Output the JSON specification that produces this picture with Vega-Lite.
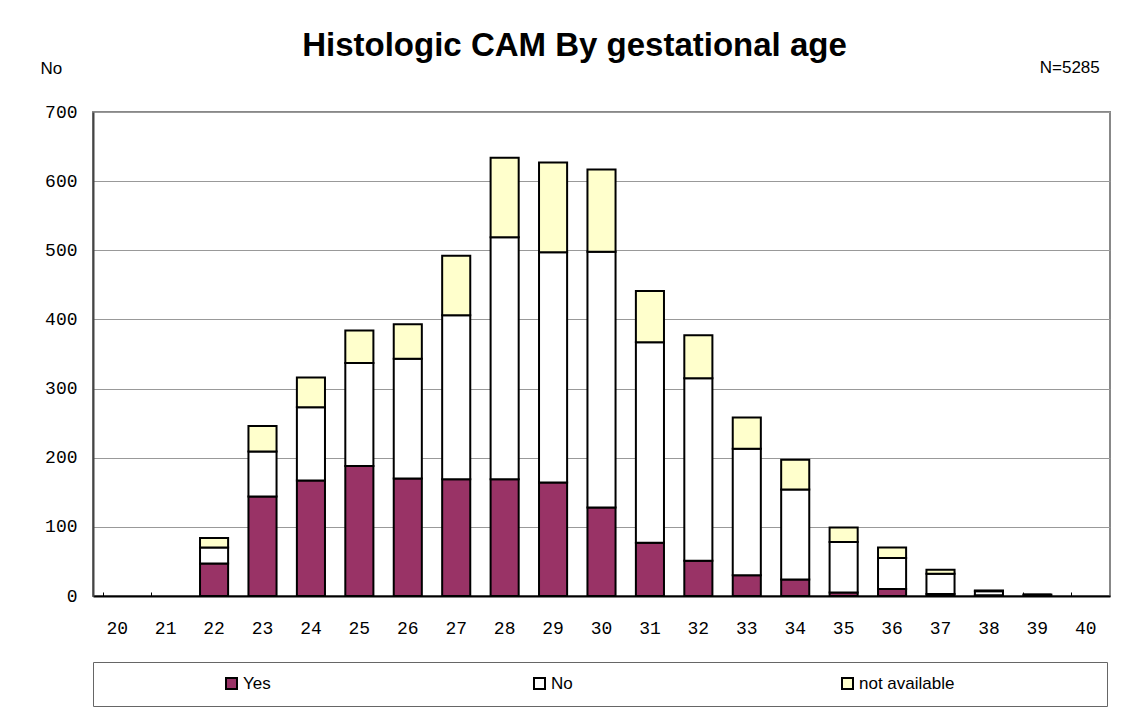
{
  "$schema": "https://vega.github.io/schema/vega-lite/v6.json",
  "width": 1017,
  "height": 484,
  "autosize": {"type": "none"},
  "padding": {"left": 93, "top": 112, "right": 23, "bottom": 122},
  "background": "white",
  "title": {
    "text": "Histologic CAM By gestational age",
    "font": "Liberation Sans",
    "fontSize": 33,
    "fontWeight": "bold",
    "color": "black",
    "anchor": "middle",
    "baseline": "alphabetic",
    "dx": -27,
    "offset": -30
  },
  "config": {
    "view": {"stroke": "#888888", "strokeWidth": 2}
  },
  "layer": [
    {
      "data": {
        "values": [
          {"age": 22, "status": "Yes", "ord": 1, "count": 47},
          {"age": 22, "status": "No", "ord": 2, "count": 23},
          {"age": 22, "status": "not available", "ord": 3, "count": 14},
          {"age": 23, "status": "Yes", "ord": 1, "count": 144},
          {"age": 23, "status": "No", "ord": 2, "count": 65},
          {"age": 23, "status": "not available", "ord": 3, "count": 37},
          {"age": 24, "status": "Yes", "ord": 1, "count": 167},
          {"age": 24, "status": "No", "ord": 2, "count": 106},
          {"age": 24, "status": "not available", "ord": 3, "count": 43},
          {"age": 25, "status": "Yes", "ord": 1, "count": 188},
          {"age": 25, "status": "No", "ord": 2, "count": 149},
          {"age": 25, "status": "not available", "ord": 3, "count": 47},
          {"age": 26, "status": "Yes", "ord": 1, "count": 170},
          {"age": 26, "status": "No", "ord": 2, "count": 173},
          {"age": 26, "status": "not available", "ord": 3, "count": 50},
          {"age": 27, "status": "Yes", "ord": 1, "count": 169},
          {"age": 27, "status": "No", "ord": 2, "count": 237},
          {"age": 27, "status": "not available", "ord": 3, "count": 86},
          {"age": 28, "status": "Yes", "ord": 1, "count": 169},
          {"age": 28, "status": "No", "ord": 2, "count": 350},
          {"age": 28, "status": "not available", "ord": 3, "count": 115},
          {"age": 29, "status": "Yes", "ord": 1, "count": 164},
          {"age": 29, "status": "No", "ord": 2, "count": 333},
          {"age": 29, "status": "not available", "ord": 3, "count": 130},
          {"age": 30, "status": "Yes", "ord": 1, "count": 128},
          {"age": 30, "status": "No", "ord": 2, "count": 370},
          {"age": 30, "status": "not available", "ord": 3, "count": 119},
          {"age": 31, "status": "Yes", "ord": 1, "count": 77},
          {"age": 31, "status": "No", "ord": 2, "count": 290},
          {"age": 31, "status": "not available", "ord": 3, "count": 74},
          {"age": 32, "status": "Yes", "ord": 1, "count": 51},
          {"age": 32, "status": "No", "ord": 2, "count": 264},
          {"age": 32, "status": "not available", "ord": 3, "count": 62},
          {"age": 33, "status": "Yes", "ord": 1, "count": 30},
          {"age": 33, "status": "No", "ord": 2, "count": 183},
          {"age": 33, "status": "not available", "ord": 3, "count": 45},
          {"age": 34, "status": "Yes", "ord": 1, "count": 24},
          {"age": 34, "status": "No", "ord": 2, "count": 130},
          {"age": 34, "status": "not available", "ord": 3, "count": 43},
          {"age": 35, "status": "Yes", "ord": 1, "count": 5},
          {"age": 35, "status": "No", "ord": 2, "count": 73},
          {"age": 35, "status": "not available", "ord": 3, "count": 21},
          {"age": 36, "status": "Yes", "ord": 1, "count": 10},
          {"age": 36, "status": "No", "ord": 2, "count": 45},
          {"age": 36, "status": "not available", "ord": 3, "count": 15},
          {"age": 37, "status": "Yes", "ord": 1, "count": 3},
          {"age": 37, "status": "No", "ord": 2, "count": 29},
          {"age": 37, "status": "not available", "ord": 3, "count": 6},
          {"age": 38, "status": "Yes", "ord": 1, "count": 1},
          {"age": 38, "status": "No", "ord": 2, "count": 6},
          {"age": 38, "status": "not available", "ord": 3, "count": 1},
          {"age": 39, "status": "Yes", "ord": 1, "count": 0},
          {"age": 39, "status": "No", "ord": 2, "count": 2},
          {"age": 39, "status": "not available", "ord": 3, "count": 0}
        ]
      },
      "mark": {"type": "bar", "stroke": "black", "strokeWidth": 2},
      "encoding": {
        "x": {
          "field": "age",
          "type": "ordinal",
          "scale": {
            "domain": [20, 21, 22, 23, 24, 25, 26, 27, 28, 29, 30, 31, 32, 33, 34, 35, 36, 37, 38, 39, 40],
            "paddingInner": 0.42,
            "paddingOuter": 0.21
          },
          "axis": {
            "title": null,
            "labelAngle": 0,
            "labelFont": "Liberation Mono",
            "labelFontSize": 18,
            "labelColor": "black",
            "labelBaseline": "top",
            "labelPadding": 27,
            "bandPosition": 0,
            "tickSize": -4,
            "tickColor": "black",
            "tickWidth": 1,
            "domainColor": "black",
            "domainWidth": 2,
            "grid": false
          }
        },
        "y": {
          "field": "count",
          "type": "quantitative",
          "stack": "zero",
          "scale": {"domain": [0, 700], "nice": false},
          "axis": {
            "title": "No",
            "titleAngle": 0,
            "titleX": -53,
            "titleY": -39,
            "titleAlign": "left",
            "titleBaseline": "alphabetic",
            "titleFont": "Liberation Sans",
            "titleFontSize": 17,
            "titleFontWeight": "normal",
            "titleColor": "black",
            "values": [0, 100, 200, 300, 400, 500, 600, 700],
            "labelFont": "Liberation Mono",
            "labelFontSize": 18,
            "labelColor": "black",
            "labelPadding": 16,
            "ticks": false,
            "grid": true,
            "gridColor": "#999999",
            "gridWidth": 1,
            "domainColor": "#444444",
            "domainWidth": 2
          }
        },
        "color": {
          "field": "status",
          "type": "nominal",
          "scale": {
            "domain": ["Yes", "No", "not available"],
            "range": ["#993366", "#ffffff", "#ffffcc"]
          },
          "legend": {
            "orient": "none",
            "legendX": 0,
            "legendY": 550,
            "direction": "horizontal",
            "columns": 3,
            "gridAlign": "all",
            "columnPadding": 52,
            "padding": 13,
            "strokeColor": "#666666",
            "fillColor": "white",
            "symbolType": "square",
            "symbolSize": 121,
            "symbolStrokeColor": "black",
            "symbolStrokeWidth": 2,
            "symbolOpacity": 1,
            "labelFont": "Liberation Sans",
            "labelFontSize": 17,
            "labelColor": "black",
            "labelOffset": 3,
            "labelLimit": 400,
            "title": " ",
            "titleOrient": "left",
            "titlePadding": 117,
            "labelExpr": "datum.label == 'not available' ? 'not available\u00a0\u00a0\u00a0\u00a0\u00a0\u00a0\u00a0\u00a0\u00a0\u00a0\u00a0\u00a0\u00a0\u00a0\u00a0\u00a0\u00a0\u00a0\u00a0\u00a0\u00a0\u00a0\u00a0\u00a0\u00a0\u00a0\u00a0\u2800' : datum.label"
          }
        },
        "order": {"field": "ord", "type": "quantitative"}
      }
    },
    {
      "data": {"values": [{"t": "N=5285"}]},
      "mark": {
        "type": "text",
        "align": "right",
        "baseline": "alphabetic",
        "font": "Liberation Sans",
        "fontSize": 17,
        "color": "black",
        "dx": 14,
        "dy": -39
      },
      "encoding": {
        "x": {"datum": 40, "type": "ordinal"},
        "y": {"datum": 700, "type": "quantitative"},
        "text": {"field": "t", "type": "nominal"}
      }
    }
  ]
}
